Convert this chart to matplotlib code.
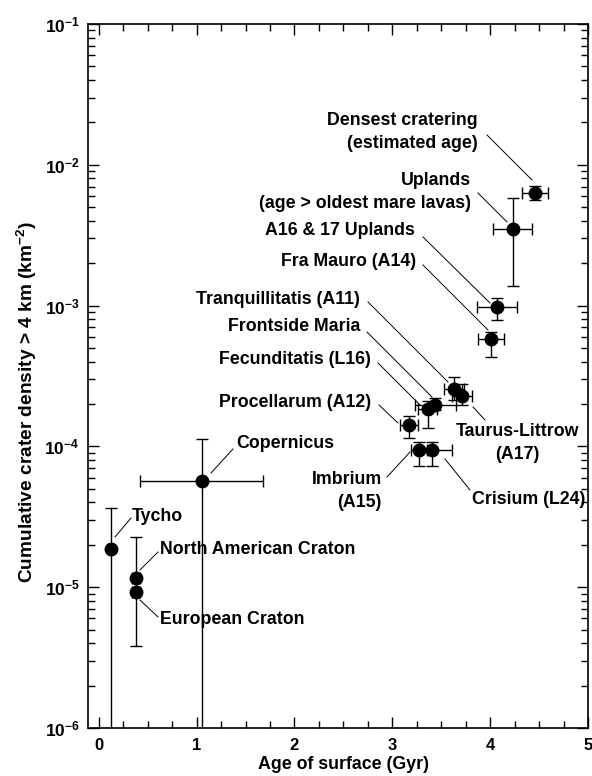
import matplotlib
matplotlib.use('Agg')
import matplotlib.pyplot as plt
from matplotlib.ticker import FixedLocator, MultipleLocator, LogLocator, NullFormatter

plt.rcParams['font.family'] = ['Liberation Sans', 'DejaVu Sans']
plt.rcParams['font.weight'] = 'bold'
plt.rcParams['mathtext.fontset'] = 'custom'
plt.rcParams['mathtext.rm'] = 'Liberation Sans:bold'
plt.rcParams['mathtext.it'] = 'Liberation Sans:bold:italic'
plt.rcParams['mathtext.bf'] = 'Liberation Sans:bold'

# ── Data (age in Gyr, crater density > 4 km in km^-2) ────────────────────────
names = ["Densest cratering", "Uplands", "A16 & 17 Uplands", "Fra Mauro (A14)",
         "Tranquillitatis (A11)", "Taurus-Littrow (A17)", "Frontside Maria",
         "Fecunditatis (L16)", "Procellarum (A12)", "Imbrium (A15)",
         "Crisium (L24)", "Copernicus", "Tycho", "North American Craton",
         "European Craton"]
age     = [4.46, 4.23, 4.07, 4.01, 3.63, 3.71, 3.44, 3.36, 3.17, 3.27, 3.41,
           1.06, 0.12, 0.38, 0.38]
age_lo  = [4.33, 4.03, 3.87, 3.88, 3.53, 3.61, 3.23, 3.26, 3.08, 3.19, 3.25,
           0.42, 0.09, 0.34, 0.34]
age_hi  = [4.59, 4.43, 4.27, 4.14, 3.73, 3.81, 3.65, 3.46, 3.26, 3.35, 3.61,
           1.68, 0.15, 0.42, 0.42]
density = [6.3e-3, 3.5e-3, 9.7e-4, 5.8e-4, 2.55e-4, 2.28e-4, 1.97e-4,
           1.83e-4, 1.42e-4, 9.5e-5, 9.5e-5, 5.7e-5, 1.86e-5, 1.16e-5, 9.3e-6]
dens_lo = [5.6e-3, 1.38e-3, 7.9e-4, 4.3e-4, 2.14e-4, 1.97e-4, 1.8e-4,
           1.35e-4, 1.14e-4, 7.3e-5, 7.3e-5, 1e-7, 1e-7, 9.3e-6, 3.8e-6]
dens_hi = [7.1e-3, 5.8e-3, 1.13e-3, 6.5e-4, 3.1e-4, 2.77e-4, 2.2e-4,
           2.1e-4, 1.64e-4, 1.08e-4, 1.08e-4, 1.13e-4, 3.67e-5, 2.26e-5, 1.16e-5]

y_ticks = [1e-6, 1e-5, 1e-4, 1e-3, 1e-2, 1e-1]
y_tick_labels = [r'$10^{-6}$', r'$10^{-5}$', r'$10^{-4}$', r'$10^{-3}$',
                 r'$10^{-2}$', r'$10^{-1}$']

# ── Label layout, in image pixels (x from left, y from top) ──────────────────
# text, ha, text x, text y, leader start, leader end
labels = [
    ("Densest cratering\n(estimated age)", 'right', 478, 132, (487, 135), (532, 180)),
    ("Uplands\n(age > oldest mare lavas)", 'right', 471, 192, (478, 193), (507, 222)),
    ("A16 & 17 Uplands", 'right', 415, 231, (423, 237), (490, 303)),
    ("Fra Mauro (A14)", 'right', 416, 262, (423, 265), (488, 330)),
    ("Tranquillitatis (A11)", 'right', 360, 300, (368, 302), (448, 382)),
    ("Frontside Maria", 'right', 360, 327, (367, 332), (432, 397)),
    ("Fecunditatis (L16)", 'right', 371, 360, (378, 363), (420, 405)),
    ("Procellarum (A12)", 'right', 371, 403, (379, 405), (398, 423)),
    ("Taurus-Littrow\n(A17)", 'center', 517, 443, (485, 420), (473, 407)),
    ("Copernicus", 'left', 236, 443, (233, 449), (211, 473)),
    ("Imbrium\n(A15)", 'right', 382, 491, (387, 477), (410, 452)),
    ("Crisium (L24)", 'left', 472, 500, (445, 459), (470, 490)),
    ("Tycho", 'left', 132, 517, (115, 537), (131, 518)),
    ("North American Craton", 'left', 160, 550, (140, 570), (158, 552)),
    ("European Craton", 'left', 160, 620, (140, 600), (158, 617)),
]

W, H = 592, 776
fig = plt.figure(figsize=(W / 100, H / 100), dpi=100)
ax = fig.add_axes([88 / W, 48 / H, 500 / W, 704 / H])

yerr = [[d - lo for d, lo in zip(density, dens_lo)],
        [hi - d for d, hi in zip(density, dens_hi)]]
xerr = [[a - lo for a, lo in zip(age, age_lo)],
        [hi - a for a, hi in zip(age, age_hi)]]

ax.errorbar(age, density, xerr=xerr, yerr=yerr, fmt='o', color='black',
            markersize=9, elinewidth=1.0, capsize=4.5, capthick=1.0,
            zorder=3)

ax.set_yscale('log')
ax.set_xlim(-0.11, 5.0)
ax.set_ylim(1e-6, 1e-1)

ax.xaxis.set_major_locator(MultipleLocator(1))
ax.xaxis.set_minor_locator(MultipleLocator(0.25))
ax.yaxis.set_major_locator(FixedLocator(y_ticks))
ax.set_yticklabels(y_tick_labels)
ax.yaxis.set_minor_locator(LogLocator(base=10, subs=range(2, 10), numticks=20))
ax.yaxis.set_minor_formatter(NullFormatter())

ax.tick_params(which='both', direction='in', top=True, right=True, width=1.0)
ax.tick_params(which='major', length=8)
ax.tick_params(which='minor', length=5)
ax.tick_params(axis='x', pad=7, labelsize=12)
ax.tick_params(axis='y', pad=6, labelsize=12.5)
for s in ax.spines.values():
    s.set_linewidth(1.2)

ax.set_xlabel("Age of surface (Gyr)", fontsize=12.8, fontweight='bold')
ax.set_ylabel(r"Cumulative crater density > 4 km (km$^{-2}$)",
              fontsize=13.8, fontweight='bold')
ax.xaxis.set_label_coords(0.51, -0.04)
ax.yaxis.set_label_coords(-0.097, 0.463)

# pixel -> data conversion for the labels
inv = ax.transData.inverted()


def to_data(xp, yp):
    return inv.transform((xp, H - yp))


for text, ha, tx, ty, p0, p1 in labels:
    x, y = to_data(tx, ty)
    ax.text(x, y, text, ha=ha, va='center', fontsize=12.8, fontweight='bold',
            multialignment=ha, linespacing=1.45)
    (x0, y0), (x1, y1) = to_data(*p0), to_data(*p1)
    ax.plot([x0, x1], [y0, y1], color='black', lw=0.7)

fig.savefig("out.png", dpi=100)
